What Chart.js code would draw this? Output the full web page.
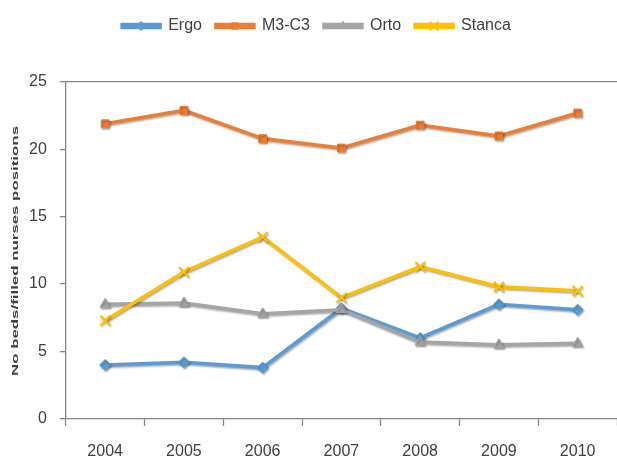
<!DOCTYPE html>
<html>
<head>
<meta charset="utf-8">
<script src="https://cdn.jsdelivr.net/npm/chart.js@4/dist/chart.umd.min.js"></script>
<style>
  html, body { margin: 0; padding: 0; background: #ffffff; }
  #wrap { width: 617px; height: 460px; position: relative; }
</style>
</head>
<body>
<div id="wrap"><canvas id="c" width="617" height="460"></canvas></div>
<script>
// Years on the category axis
const years = ['2004', '2005', '2006', '2007', '2008', '2009', '2010'];

// Beds per filled nurse position, by ward
const ergo   = [4.0, 4.2, 3.8, 8.2, 6.0, 8.5, 8.1];
const m3c3   = [21.9, 22.9, 20.8, 20.1, 21.8, 21.0, 22.7];
const orto   = [8.5, 8.6, 7.8, 8.1, 5.7, 5.5, 5.6];
const stanca = [7.3, 10.9, 13.5, 9.0, 11.3, 9.8, 9.5];

const yTicks = [0, 5, 10, 15, 20, 25];
const yTitle = 'No beds/filled nurses positions';

const AXIS = '#868686';
const TEXT = '#404040';
const FONT = 'Liberation Sans, Arial, sans-serif';

function series(label, data, color, pointStyle, radius, order) {
  return {
    label, data, order,
    borderColor: color,
    backgroundColor: color,
    borderWidth: 3.5,
    pointStyle,
    pointRadius: radius,
    pointHoverRadius: radius,
    pointBorderColor: color,
    pointBackgroundColor: color,
    pointBorderWidth: pointStyle === 'crossRot' ? 2 : 1,
    tension: 0
  };
}

const datasets = [
  series('Ergo',   ergo,   '#5B9BD5', 'rectRot',  5.5, 4),
  series('M3-C3',  m3c3,   '#ED7D31', 'rect',     5.5, 3),
  series('Orto',   orto,   '#A5A5A5', 'triangle', 6, 2),
  series('Stanca', stanca, '#FFC000', 'crossRot', 7, 1)
];

// Soft drop shadow under the series lines
const lineShadow = {
  id: 'lineShadow',
  beforeDatasetsDraw(chart) {
    const ctx = chart.ctx;
    ctx.save();
    ctx.shadowColor = 'rgba(0,0,0,0.35)';
    ctx.shadowBlur = 2;
    ctx.shadowOffsetX = 1;
    ctx.shadowOffsetY = 1.5;
  },
  afterDatasetsDraw(chart) { chart.ctx.restore(); }
};

// Extra space between the legend and the plot
const legendGap = {
  id: 'legendGap',
  beforeInit(chart) {
    const legend = chart.legend;
    if (!legend) return;
    const fit = legend.fit;
    legend.fit = function () {
      fit.bind(legend)();
      this.height += 38;
    };
  }
};

// Markers drawn on top of the legend line samples
const legendMarkers = {
  id: 'legendMarkers',
  afterDraw(chart) {
    const legend = chart.legend;
    if (!legend || !legend.legendHitBoxes) return;
    const ctx = chart.ctx;
    const boxW = legend.options.labels.boxWidth;
    legend.legendItems.forEach((item, i) => {
      const hb = legend.legendHitBoxes[i];
      const ds = chart.data.datasets[item.datasetIndex];
      const cx = hb.left + boxW / 2;
      const cy = hb.top + hb.height / 2;
      ctx.save();
      ctx.fillStyle = ds.pointBackgroundColor;
      ctx.strokeStyle = ds.pointBorderColor;
      ctx.lineWidth = ds.pointBorderWidth;
      Chart.helpers.drawPoint(ctx, {
        pointStyle: ds.pointStyle,
        radius: ds.pointRadius - 1,
        rotation: 0,
        borderWidth: ds.pointBorderWidth
      }, cx, cy);
      ctx.restore();
    });
  }
};

// Rotated, horizontally stretched y-axis title
const yAxisTitle = {
  id: 'yAxisTitle',
  afterDraw(chart) {
    const ctx = chart.ctx;
    ctx.save();
    ctx.font = 'bold 9px ' + FONT;
    ctx.fillStyle = TEXT;
    ctx.textAlign = 'center';
    ctx.textBaseline = 'middle';
    const w = ctx.measureText(yTitle).width;
    const target = 250;
    ctx.translate(16, 251);
    ctx.rotate(-Math.PI / 2);
    ctx.scale(target / w, 1);
    ctx.fillText(yTitle, 0, 0);
    ctx.restore();
  }
};

new Chart(document.getElementById('c'), {
  type: 'line',
  data: { labels: years, datasets },
  options: {
    responsive: false,
    animation: false,
    devicePixelRatio: 1,
    layout: { autoPadding: false, padding: { left: 16, right: 0, top: 4, bottom: -17 } },
    plugins: {
      tooltip: { enabled: false },
      legend: {
        position: 'top',
        align: 'center',
        labels: {
          boxWidth: 38,
          boxHeight: 3,
          padding: 14,
          color: TEXT,
          font: { family: FONT, size: 16 },
          sort: (a, b) => a.datasetIndex - b.datasetIndex
        }
      }
    },
    scales: {
      x: {
        type: 'category',
        offset: true,
        afterFit(scale) { scale.paddingLeft = 0; scale.paddingRight = 0; },
        border: { color: AXIS, width: 1.3 },
        grid: {
          offset: true,
          drawOnChartArea: false,
          drawTicks: true,
          tickLength: 7,
          tickColor: AXIS,
          tickWidth: 1.3
        },
        ticks: {
          color: TEXT,
          padding: 16,
          font: { family: FONT, size: 16 },
          maxRotation: 0
        }
      },
      y: {
        min: 0,
        max: 25,
        afterBuildTicks(axis) { axis.ticks = yTicks.map(v => ({ value: v })); },
        border: { color: AXIS, width: 1.3 },
        grid: {
          drawOnChartArea: true,
          color: (c) => (c.tick && c.tick.value === 25 ? AXIS : 'rgba(0,0,0,0)'),
          lineWidth: 1.3,
          drawTicks: true,
          tickLength: 6,
          tickColor: AXIS,
          tickWidth: 1.3
        },
        ticks: {
          color: TEXT,
          padding: 13,
          font: { family: FONT, size: 16 }
        }
      }
    }
  },
  plugins: [legendGap, lineShadow, legendMarkers, yAxisTitle]
});
</script>
</body>
</html>
